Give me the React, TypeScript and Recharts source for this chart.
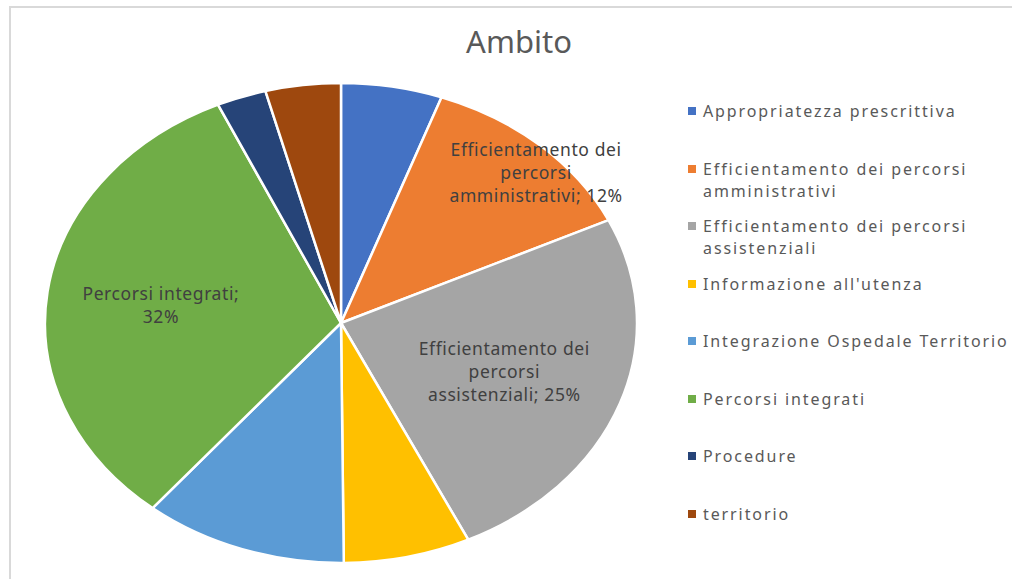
import { PieChart, Pie, Cell, Legend } from 'recharts'

const categories = [
  'Appropriatezza prescrittiva',
  'Efficientamento dei percorsi amministrativi',
  'Efficientamento dei percorsi assistenziali',
  "Informazione all'utenza",
  'Integrazione Ospedale Territorio',
  'Percorsi integrati',
  'Procedure',
  'territorio',
]
const values = [5.5, 12.4, 24.9, 6.9, 11.1, 32.1, 2.7, 4.1]
const colors = ['#4472C4', '#ED7D31', '#A5A5A5', '#FFC000', '#5B9BD5', '#70AD47', '#264478', '#9E480E']

const data = categories.map((name, i) => ({ name, value: values[i] }))

// the excel pie is stretched into an ellipse
const CX = 341
const CY = 323
const RX = 296
const RY = 240
const FONT = '"Noto Sans", "Open Sans", sans-serif'

function wrap(text: string, max: number) {
  const lines: string[] = []
  let cur = ''
  for (const w of text.split(' ')) {
    const next = cur ? cur + ' ' + w : w
    if (next.length > max && cur) {
      lines.push(cur)
      cur = w
    } else cur = next
  }
  if (cur) lines.push(cur)
  return lines
}

function renderLabel(props: any) {
  const { midAngle, percent } = props
  if (percent < 0.115) return null
  const name = props.payload?.name ?? props.name
  const small = percent < 0.2
  const f = small ? 0.92 : 0.6
  const rad = (midAngle * Math.PI) / 180
  const x = CX + f * RX * Math.cos(rad) + (small ? 12 : -4)
  const y = CY - f * RY * Math.sin(rad) + (small ? 12 : 0)
  const lines = wrap(`${name}; ${Math.round(percent * 100)}%`, 20)
  const lh = 23
  const y0 = y - ((lines.length - 1) * lh) / 2
  return (
    <text
      x={x}
      y={y0}
      textAnchor="middle"
      dominantBaseline="central"
      fill="#404040"
      style={{ fontSize: 17.5, fontFamily: FONT, letterSpacing: 0.6 }}
    >
      {lines.map((l, i) => (
        <tspan key={i} x={x} dy={i === 0 ? 0 : lh}>{l}</tspan>
      ))}
    </text>
  )
}

function renderLegend(props: any) {
  const payload = props.payload ?? []
  return (
    <div style={{ fontFamily: FONT, fontSize: 16, color: '#595959', letterSpacing: 1.9 }}>
      {payload.map((p: any) => (
        <div key={p.value} style={{ height: 57.5, display: 'flex', alignItems: 'flex-start' }}>
          <span style={{ width: 8, height: 8, background: p.color, marginTop: 7, marginRight: 7, flex: 'none' }} />
          <span style={{ lineHeight: '22px', width: 312 }}>{p.value}</span>
        </div>
      ))}
    </div>
  )
}

export default function App() {
  return (
    <div style={{ position: 'absolute', left: 0, top: 0, width: 1012, height: 579, overflow: 'hidden', background: '#fff' }}>
      <style>{`
        body { margin: 0; overflow: hidden; }
        .pie-ellipse .recharts-sector {
          transform-box: view-box;
          transform-origin: ${CX}px ${CY}px;
          transform: scaleX(${RX / RY});
          vector-effect: non-scaling-stroke;
        }
      `}</style>
      <div style={{ position: 'absolute', left: 9, top: 6, width: 1100, height: 700, borderLeft: '2px solid #d9d9d9', borderTop: '2px solid #d9d9d9' }} />
      <div style={{ position: 'absolute', left: 419, top: 20, width: 200, textAlign: 'center', fontFamily: FONT, fontSize: 31, color: '#595959' }}>
        Ambito
      </div>
      <div className="pie-ellipse" style={{ position: 'absolute', left: 0, top: 0 }}>
        <PieChart width={1012} height={579} margin={{ top: 0, right: 0, bottom: 0, left: 0 }}>
          <Pie
            data={data}
            dataKey="value"
            nameKey="name"
            cx={CX}
            cy={CY}
            outerRadius={RY}
            startAngle={90}
            endAngle={-270}
            stroke="#fff"
            strokeWidth={2.5}
            label={renderLabel}
            labelLine={false}
            isAnimationActive={false}
          >
            {data.map((d, i) => (
              <Cell key={d.name} fill={colors[i]} />
            ))}
          </Pie>
          <Legend
            layout="vertical"
            align="right"
            verticalAlign="top"
            content={renderLegend}
            wrapperStyle={{ left: 688, top: 100, width: 324 }}
          />
        </PieChart>
      </div>
    </div>
  )
}
